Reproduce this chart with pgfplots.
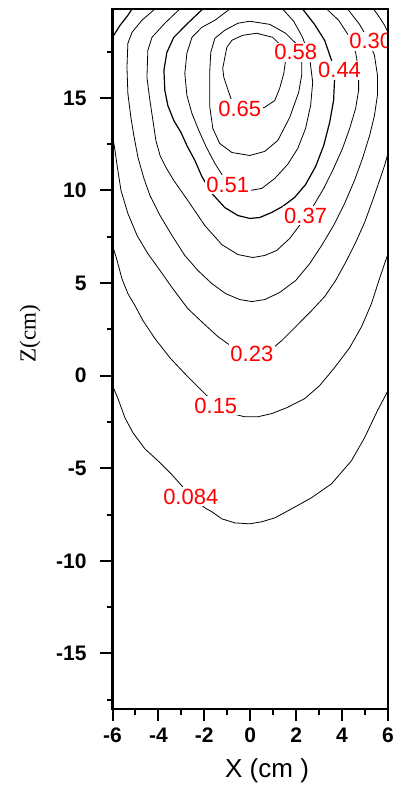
\documentclass[border=0pt]{standalone}
\usepackage{fontspec}
\setmainfont{Liberation Sans}
\newfontfamily\seriffont{Liberation Serif}
\usepackage{pgfplots}
\pgfplotsset{compat=1.18}
\definecolor{lblred}{RGB}{255,0,0}
\tikzset{lbl/.style={font=\fontsize{11}{13}\selectfont, text=lblred, fill=white, inner sep=0.8pt}}
\begin{document}
\begin{tikzpicture}
\path[use as bounding box] (-56.25pt,-39pt) rectangle (140.25pt,354.5pt);
\begin{axis}[
  at={(0pt,0pt)}, anchor=south west,
  scale only axis, width=137.75pt, height=350pt,
  xmin=-6, xmax=6, ymin=-18, ymax=19.8,
  axis on top,
  axis line style={line width=1.2pt},
  tick align=outside, xtick pos=bottom, ytick pos=left,
  xtick={-6,-4,...,6}, ytick={-15,-10,...,15},
  minor xtick={-5,-3,...,5}, minor ytick={-17.5,-12.5,...,17.5},
  major tick length=6pt, minor tick length=3pt,
  every tick/.style={black, line width=1pt},
  /pgf/number format/assume math mode=true,
  ticklabel style={font=\fontsize{10.5}{12}\selectfont\bfseries},
  yticklabel style={xshift=-3.5pt},
  xlabel={X (cm )}, ylabel={\seriffont Z(cm)},
  xlabel style={font=\fontsize{13}{15}\selectfont, at={(axis description cs:0.561,-0.0886)}, anchor=center},
  ylabel style={font=\fontsize{11.5}{13}\selectfont, at={(axis description cs:-0.2995,0.536)}, anchor=center},
  cycle list={{black,solid,mark=none,line width=0.6pt}},
]
% 0.65
\addplot coordinates {(-0.89,15.14) (-1.15,16.11) (-1.20,16.59) (-1.02,17.73) (-0.80,18.11) (-0.33,18.38) (0.28,18.49) (0.98,18.27) (1.41,17.73) (1.54,17.03) (1.46,16.32) (1.28,15.51) (1.07,14.86) (0.63,14.49) (0.07,14.32) (-0.46,14.38) (-0.76,14.70) (-0.89,15.14)};
% 0.58
\addplot coordinates {(-0.02,19.14) (-0.54,19.03) (-1.11,18.65) (-1.54,18.22) (-1.72,17.46) (-1.76,16.49) (-1.76,15.41) (-1.76,14.49) (-1.63,13.35) (-1.33,12.54) (-0.80,12.05) (-0.02,11.89) (0.63,12.11) (1.20,12.70) (1.72,13.95) (2.11,15.30) (2.24,16.22) (2.24,17.03) (1.98,17.95) (1.54,18.49) (0.85,18.97) (-0.02,19.14)};
% 0.51
\addplot coordinates {(-0.89,19.8) (-1.54,19.19) (-2.11,18.81) (-2.54,18.27) (-2.76,17.41) (-2.85,16.32) (-2.76,15.14) (-2.54,14.16) (-2.24,13.24) (-1.93,12.38) (-1.54,11.46) (-1.15,10.70) (-0.63,10.22) (-0.02,10.0) (0.50,10.11) (1.07,10.65) (1.63,11.41) (2.07,12.27) (2.41,13.35) (2.63,14.59) (2.72,15.84) (2.59,17.14) (2.28,18.27) (1.89,19.14) (1.41,19.8)};
% 0.44
\addplot coordinates {(-2.07,19.8) (-2.72,19.03) (-3.33,18.27) (-3.63,17.46) (-3.76,16.49) (-3.72,15.41) (-3.59,14.59) (-3.33,13.78) (-3.02,13.14) (-2.76,12.43) (-2.41,11.62) (-2.11,10.76) (-1.67,9.84) (-1.11,9.08) (-0.54,8.65) (-0.02,8.49) (0.41,8.54) (0.93,8.81) (1.41,9.14) (1.93,9.62) (2.41,10.32) (2.85,11.30) (3.20,12.43) (3.46,13.68) (3.63,14.86) (3.67,15.95) (3.54,17.03) (3.24,18.11) (2.80,18.97) (2.28,19.8)};
% 0.37
\addplot coordinates {(-3.07,19.8) (-3.72,19.03) (-4.28,18.27) (-4.46,17.57) (-4.50,16.11) (-4.37,14.86) (-4.24,13.78) (-4.11,12.70) (-3.93,11.89) (-3.67,11.24) (-3.33,10.54) (-2.72,9.46) (-1.98,8.11) (-1.24,7.08) (-0.54,6.54) (0.11,6.38) (0.63,6.49) (1.15,6.76) (1.72,7.41) (2.24,8.27) (2.76,9.19) (3.20,10.11) (3.63,11.19) (4.02,12.27) (4.33,13.35) (4.59,14.43) (4.72,15.41) (4.72,16.49) (4.59,17.46) (4.28,18.38) (3.85,19.19) (3.33,19.8)};
% 0.30
\addplot coordinates {(-4.15,19.8) (-4.72,19.19) (-5.15,18.54) (-5.33,17.95) (-5.37,16.65) (-5.33,15.24) (-5.20,13.95) (-5.07,12.97) (-4.89,11.78) (-4.63,10.65) (-4.37,9.73) (-3.93,8.65) (-3.41,7.57) (-2.85,6.49) (-2.28,5.68) (-1.67,4.97) (-1.07,4.43) (-0.46,4.11) (0.07,4.0) (0.63,4.11) (1.28,4.49) (1.98,5.14) (2.59,6.05) (3.11,7.03) (3.63,8.11) (4.11,9.30) (4.54,10.54) (4.89,11.73) (5.20,12.97) (5.41,14.05) (5.54,15.14) (5.54,16.22) (5.41,17.30) (5.11,18.22) (4.76,18.97) (4.24,19.8)};
% 0.23
\addplot coordinates {(-6,12.97) (-5.89,12.16) (-5.80,11.35) (-5.63,10.0) (-5.33,8.76) (-4.93,7.57) (-4.46,6.59) (-3.93,5.68) (-3.41,4.76) (-2.72,3.62) (-2.07,2.86) (-1.41,2.11) (-0.80,1.57) (-0.24,1.24) (0.33,1.19) (0.85,1.35) (1.37,1.89) (2.07,2.76) (2.67,3.51) (3.24,4.27) (3.72,5.14) (4.15,6.11) (4.59,7.19) (4.98,8.27) (5.33,9.46) (5.63,10.54) (5.85,11.35) (6,12.0)};
\addplot coordinates {(-6,18.27) (-5.67,18.92) (-5.33,19.46) (-5.15,19.8)};
\addplot coordinates {(5.37,19.8) (5.63,19.35) (5.85,18.92) (6,18.54)};
% 0.15
\addplot coordinates {(-6,7.03) (-5.80,6.22) (-5.59,5.24) (-5.33,4.43) (-5.02,3.78) (-4.67,2.97) (-4.15,2.0) (-3.50,0.97) (-2.85,0.11) (-2.20,-0.70) (-1.76,-1.24) (-1.33,-1.73) (-0.80,-2.05) (-0.24,-2.22) (0.33,-2.22) (0.93,-2.05) (1.59,-1.73) (2.37,-1.24) (3.02,-0.54) (3.67,0.43) (4.33,1.51) (4.85,2.65) (5.28,3.89) (5.63,5.24) (6,6.59)};
% 0.084
\addplot coordinates {(-6,-0.54) (-5.76,-1.24) (-5.46,-2.27) (-5.11,-3.08) (-4.59,-3.95) (-3.93,-4.70) (-3.41,-5.35) (-2.98,-5.95) (-2.54,-6.54) (-1.98,-7.14) (-1.67,-7.35) (-1.24,-7.73) (-0.67,-7.95) (-0.02,-8.0) (0.50,-7.89) (1.07,-7.68) (1.80,-7.19) (2.67,-6.59) (3.54,-5.84) (4.41,-4.59) (4.98,-3.35) (5.54,-1.89) (6,-0.81)};
\node[lbl] at (-0.46,14.43) {0.65};
\node[lbl] at (1.98,17.46) {0.58};
\node[lbl] at (3.89,16.49) {0.44};
\node[lbl] at (5.25,18.05) {0.30};
\node[lbl] at (-0.98,10.32) {0.51};
\node[lbl] at (2.41,8.65) {0.37};
\node[lbl] at (0.07,1.19) {0.23};
\node[lbl] at (-1.50,-1.62) {0.15};
\node[lbl] at (-2.59,-6.54) {0.084};
\end{axis}
\end{tikzpicture}
\end{document}
